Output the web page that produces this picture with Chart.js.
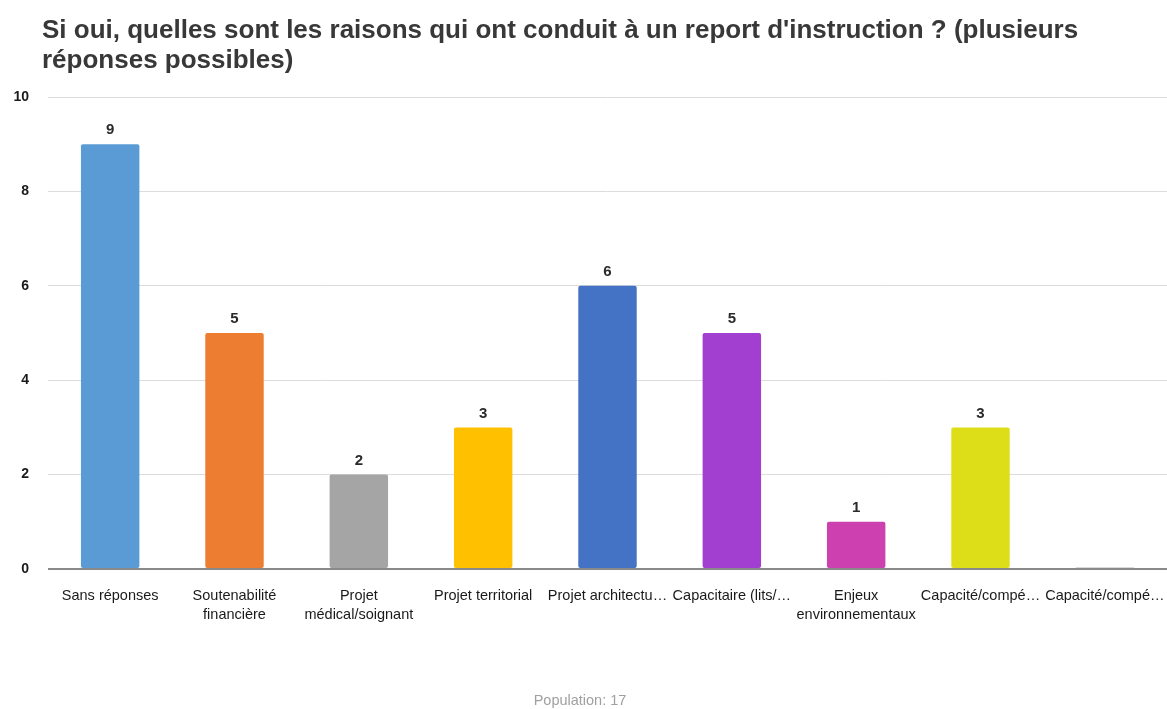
<!DOCTYPE html>
<html lang="fr">
<head>
<meta charset="utf-8">
<script src="https://cdn.jsdelivr.net/npm/chart.js@4/dist/chart.umd.min.js"></script>
<style>
  html, body { margin: 0; padding: 0; background: #fff; }
  #wrap { position: relative; width: 1167px; height: 709px; overflow: hidden; }
  #chart { position: absolute; left: 0; top: 0; }
  #title {
    position: absolute; left: 42px; top: 14px; width: 1090px;
    font: bold 26px "Liberation Sans", Arial, sans-serif; line-height: 30px; color: #383838;
  }
  #footer {
    position: absolute; left: 0; width: 1160px; top: 692px; text-align: center;
    font: 14.5px "Liberation Sans", Arial, sans-serif; color: #a0a0a0;
  }
</style>
</head>
<body>
<div id="wrap">
  <canvas id="chart" width="1167" height="709"></canvas>
  <div id="title">Si oui, quelles sont les raisons qui ont conduit à un report d'instruction ? (plusieurs réponses possibles)</div>
  <div id="footer">Population: 17</div>
</div>
<script>
const categories = [
    'Sans réponses',
    ['Soutenabilité', 'financière'],
    ['Projet', 'médical/soignant'],
    'Projet territorial',
    'Projet architectu…',
    'Capacitaire (lits/…',
    ['Enjeux', 'environnementaux'],
    'Capacité/compé…',
    'Capacité/compé…'
];
const counts = [9, 5, 2, 3, 6, 5, 1, 3, 0];
const barColors = ['#5B9BD5', '#ED7D31', '#A5A5A5', '#FFC000', '#4472C4', '#A23ED0', '#CC40B0', '#DEDE18', '#D9D9D9'];
const yTicks = [0, 2, 4, 6, 8, 10];

const FONT = '"Liberation Sans", Arial, sans-serif';

// write each non-zero count above its bar
const valueLabels = {
    id: 'valueLabels',
    afterDatasetsDraw(chart) {
        const ctx = chart.ctx;
        const meta = chart.getDatasetMeta(0);
        ctx.save();
        ctx.font = 'bold 15px ' + FONT;
        ctx.fillStyle = '#2a2a2a';
        ctx.textAlign = 'center';
        ctx.textBaseline = 'middle';
        meta.data.forEach((bar, i) => {
            if (!counts[i]) return;
            ctx.fillText(String(counts[i]), bar.x, bar.y - 14);
        });
        ctx.restore();
    }
};

new Chart(document.getElementById('chart').getContext('2d'), {
    type: 'bar',
    data: {
        labels: categories,
        datasets: [{
            data: counts,
            backgroundColor: barColors,
            borderRadius: 2,
            borderSkipped: false,
            minBarLength: 2,
            barPercentage: 0.94,
            categoryPercentage: 0.5
        }]
    },
    options: {
        responsive: false,
        animation: false,
        layout: { padding: { top: 97, left: 0, right: 0, bottom: 68 } },
        plugins: {
            legend: { display: false },
            tooltip: { enabled: false },
            title: { display: false }
        },
        scales: {
            y: {
                min: 0,
                max: 10,
                afterBuildTicks: axis => { axis.ticks = yTicks.map(v => ({ value: v })); },
                afterFit: axis => { axis.width = 48; },
                border: { display: false },
                grid: {
                    drawTicks: false,
                    color: c => c.tick && c.tick.value === 0 ? '#8a8a8a' : '#dcdcdc',
                    lineWidth: c => c.tick && c.tick.value === 0 ? 2 : 1
                },
                ticks: {
                    padding: 19,
                    color: '#1a1a1a',
                    font: { family: FONT, size: 14, weight: 'bold' }
                }
            },
            x: {
                // let the bars run to the right edge of the canvas
                afterFit: axis => { axis.paddingLeft = 0; axis.paddingRight = 0; },
                border: { display: false },
                grid: { display: false, drawTicks: false },
                ticks: {
                    autoSkip: false,
                    maxRotation: 0,
                    padding: 17,
                    color: '#1a1a1a',
                    font: { family: FONT, size: 14.5, lineHeight: 1.31 }
                }
            }
        }
    },
    plugins: [valueLabels]
});
</script>
</body>
</html>
